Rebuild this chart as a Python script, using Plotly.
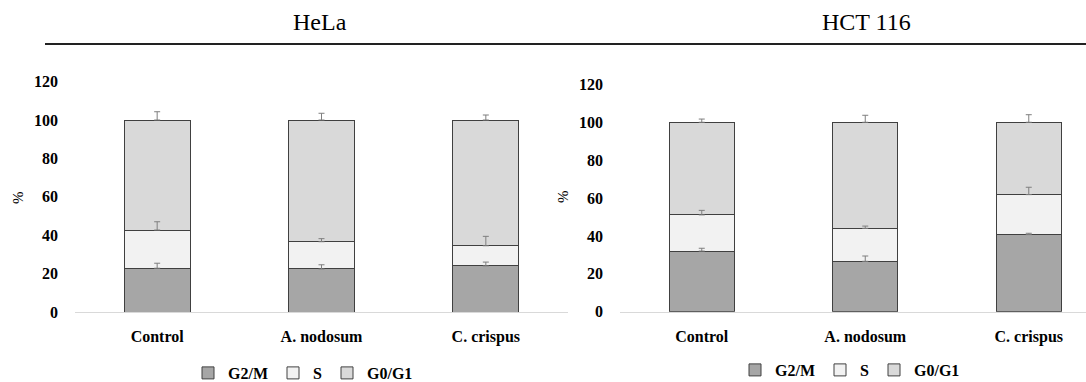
import plotly.graph_objects as go

W, H = 1086, 382

categories = ["Control", "A. nodosum", "C. crispus"]
phases = ["G2/M", "S", "G0/G1"]
phase_colors = ["#a6a6a6", "#f2f2f2", "#d9d9d9"]

# HeLa (percent of cells in each phase)
hela_g2m = [22.8, 22.4, 24.0]
hela_s = [19.9, 14.2, 10.5]
hela_g0g1 = [57.3, 63.4, 65.5]
hela_g2m_err = [2.6, 2.2, 2.0]
hela_s_err = [4.3, 1.6, 4.9]
hela_g0g1_err = [4.3, 3.5, 2.6]

# HCT 116
hct_g2m = [32.0, 26.6, 40.7]
hct_s = [19.1, 17.4, 21.1]
hct_g0g1 = [48.9, 56.0, 38.2]
hct_g2m_err = [1.5, 2.8, 0.7]
hct_s_err = [2.4, 1.2, 3.9]
hct_g0g1_err = [1.7, 3.7, 4.0]

yticks = [0, 20, 40, 60, 80, 100, 120]
panel_titles = ["HeLa", "HCT 116"]

SERIF = "Liberation Serif"

fig = go.Figure()

panels = [
    ("x", "y", "legend", [hela_g2m, hela_s, hela_g0g1], [hela_g2m_err, hela_s_err, hela_g0g1_err]),
    ("x2", "y2", "legend2", [hct_g2m, hct_s, hct_g0g1], [hct_g2m_err, hct_s_err, hct_g0g1_err]),
]

for xa, ya, lg, vals, errs in panels:
    for name, color, v in zip(phases, phase_colors, vals):
        fig.add_trace(go.Bar(
            x=categories, y=v, name=name, xaxis=xa, yaxis=ya, legend=lg,
            marker=dict(color=color, line=dict(color="#404040", width=1)),
        ))
    # error bars on top of each stacked segment (drawn above all bars)
    cum = [0.0] * len(categories)
    for v, e in zip(vals, errs):
        cum = [c + vi for c, vi in zip(cum, v)]
        fig.add_trace(go.Scatter(
            x=categories, y=list(cum), mode="markers", xaxis=xa, yaxis=ya,
            marker=dict(opacity=0, size=1), showlegend=False, hoverinfo="skip",
            error_y=dict(type="data", symmetric=False, array=e,
                         arrayminus=[0] * len(e), color="#7f7f7f",
                         thickness=1, width=3),
        ))

def px_x(p):
    return p / W

def px_y(p):
    return (H - p) / H

tick_font = dict(family=SERIF, size=16, color="#000000", weight="bold")

fig.update_layout(
    width=W, height=H,
    margin=dict(l=0, r=0, t=0, b=0, autoexpand=False),
    paper_bgcolor="white", plot_bgcolor="white",
    barmode="stack", bargap=0.6,
    showlegend=True,
    xaxis=dict(domain=[px_x(75), px_x(568)], range=[-0.5, 2.5], anchor="y",
               showline=True, linecolor="#d9d9d9", linewidth=1,
               showgrid=False, zeroline=False, ticks="",
               tickfont=tick_font, ticklabelstandoff=10),
    yaxis=dict(domain=[px_y(312), px_y(81.6)], range=[0, 120], anchor="x",
               tickvals=yticks, showgrid=False, zeroline=False, showline=False,
               ticks="", tickfont=tick_font, ticklabelstandoff=16),
    xaxis2=dict(domain=[px_x(620), 1.0], range=[-0.5, 2.35], anchor="y2",
                showline=True, linecolor="#d9d9d9", linewidth=1,
                showgrid=False, zeroline=False, ticks="",
                tickfont=tick_font, ticklabelstandoff=10),
    yaxis2=dict(domain=[px_y(311.7), px_y(84.4)], range=[0, 120], anchor="x2",
                tickvals=yticks, showgrid=False, zeroline=False, showline=False,
                ticks="", tickfont=tick_font, ticklabelstandoff=16),
    legend=dict(orientation="h", xref="container", yref="container",
                x=px_x(303), y=px_y(373), xanchor="center", yanchor="middle",
                font=tick_font, itemwidth=30, bgcolor="rgba(0,0,0,0)", traceorder="normal"),
    legend2=dict(orientation="h", xref="container", yref="container",
                 x=px_x(850), y=px_y(370), xanchor="center", yanchor="middle",
                 font=tick_font, itemwidth=30, bgcolor="rgba(0,0,0,0)", traceorder="normal"),
)

# panel titles
for title, cx in zip(panel_titles, [320, 866]):
    fig.add_annotation(text=title, x=px_x(cx), y=px_y(22), xref="paper", yref="paper",
                       showarrow=False, xanchor="center", yanchor="middle",
                       font=dict(family=SERIF, size=24, color="#000000"))

# y axis titles
for cx, cy in [(18, 198), (563, 197)]:
    fig.add_annotation(text="%", x=px_x(cx), y=px_y(cy), xref="paper", yref="paper",
                       showarrow=False, xanchor="center", yanchor="middle", textangle=-90,
                       font=dict(family=SERIF, size=15, color="#000000"))

# horizontal rule under titles
fig.add_shape(type="line", xref="paper", yref="paper",
              x0=px_x(45), x1=1.0, y0=px_y(44), y1=px_y(44),
              line=dict(color="#222222", width=2))

fig.write_html("out.html")
